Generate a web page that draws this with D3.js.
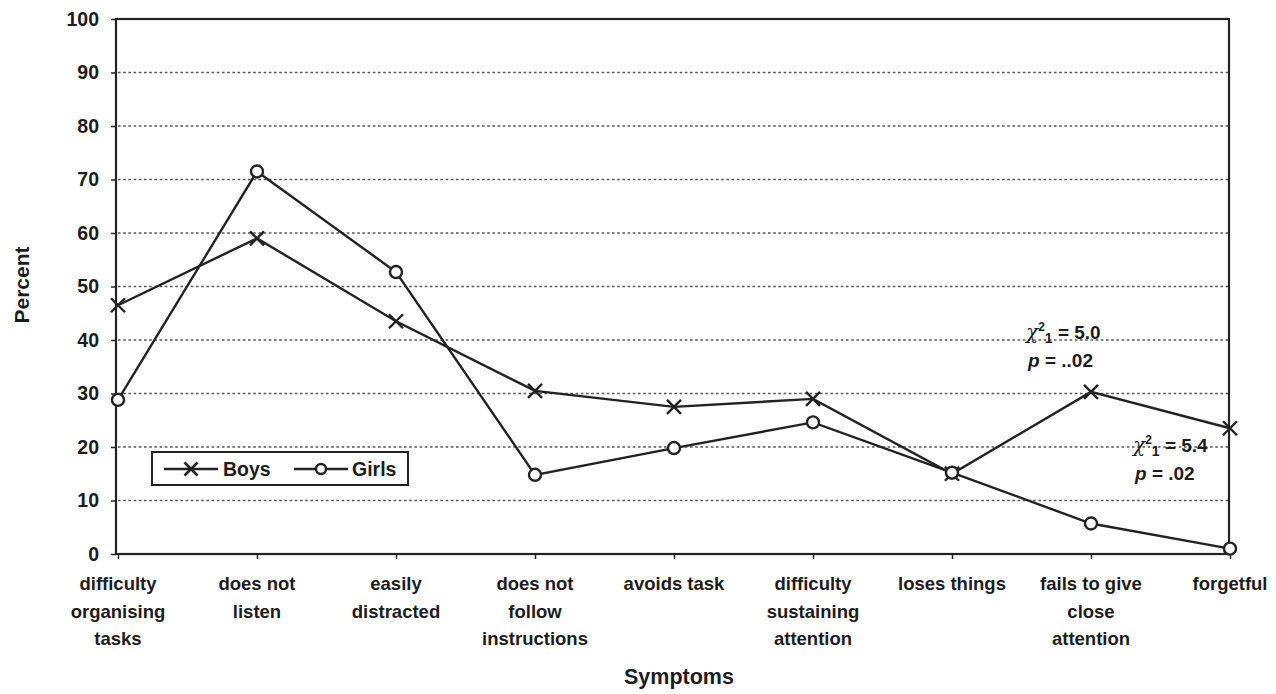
<!DOCTYPE html>
<html>
<head>
<meta charset="utf-8">
<script src="https://cdn.jsdelivr.net/npm/d3@7"></script>
<style>
  html, body { margin: 0; padding: 0; background: #fff; }
  svg { display: block; font-family: "Liberation Sans", Arial, sans-serif; }
</style>
</head>
<body>
<svg id="chart" width="1276" height="694"></svg>
<script>
// Symptom categories (multi-line labels)
const categories = [
  ["difficulty", "organising", "tasks"],
  ["does not", "listen"],
  ["easily", "distracted"],
  ["does not", "follow", "instructions"],
  ["avoids task"],
  ["difficulty", "sustaining", "attention"],
  ["loses things"],
  ["fails to give", "close", "attention"],
  ["forgetful"]
];
const boys  = [46.5, 59.0, 43.5, 30.5, 27.5, 29.0, 15.0, 30.3, 23.5];
const girls = [28.8, 71.5, 52.7, 14.8, 19.8, 24.6, 15.2, 5.7, 1.0];
const yTicks = [0, 10, 20, 30, 40, 50, 60, 70, 80, 90, 100];

const svg = d3.select("#chart");
const plotLeft = 118, plotRight = 1230, plotTop = 19, plotBottom = 554;
const ink = "#1c1c1c";

const x = d3.scalePoint().domain(d3.range(categories.length)).range([plotLeft, plotRight]).padding(0);
const y = d3.scaleLinear().domain([0, 100]).range([plotBottom, plotTop]);

// dotted gridlines
svg.append("g").selectAll("line")
  .data(yTicks.filter(t => t > 0 && t < 100))
  .join("line")
  .attr("x1", plotLeft).attr("x2", 1228)
  .attr("y1", d => y(d)).attr("y2", d => y(d))
  .attr("stroke", "#555").attr("stroke-width", 1.7)
  .attr("stroke-dasharray", "2.6,2.6");

// frame
svg.append("rect")
  .attr("x", 116).attr("y", plotTop)
  .attr("width", 1229 - 116).attr("height", plotBottom - plotTop)
  .attr("fill", "none").attr("stroke", "#222").attr("stroke-width", 2.2);

// y axis
const yAxis = svg.append("g").attr("transform", `translate(116,0)`)
  .call(d3.axisLeft(y).tickValues(yTicks).tickSize(5).tickPadding(12));
yAxis.select(".domain").remove();
yAxis.selectAll("line").attr("stroke", "#222").attr("stroke-width", 1.5);
yAxis.selectAll("text").attr("font-size", 19.5).attr("fill", ink)
  .attr("font-family", "'Liberation Sans', Arial, sans-serif").attr("font-weight", "bold");

// x axis
const xAxis = svg.append("g").attr("transform", `translate(0,${plotBottom})`)
  .call(d3.axisBottom(x).tickSize(5).tickFormat(""));
xAxis.select(".domain").remove();
xAxis.selectAll("line").attr("stroke", "#222").attr("stroke-width", 1.5);

const labels = svg.append("g")
  .attr("font-size", 18.5).attr("font-weight", "bold").attr("fill", ink)
  .attr("text-anchor", "middle");
categories.forEach((lines, i) => {
  const t = labels.append("text").attr("x", x(i)).attr("y", 590);
  lines.forEach((ln, k) => {
    t.append("tspan").attr("x", x(i)).attr("dy", k === 0 ? 0 : 27.5).text(ln);
  });
});

// axis titles
svg.append("text").attr("x", 679).attr("y", 684)
  .attr("text-anchor", "middle").attr("font-size", 21.5).attr("font-weight", "bold")
  .attr("fill", ink).text("Symptoms");
svg.append("text")
  .attr("transform", "translate(29,285) rotate(-90)")
  .attr("text-anchor", "middle").attr("font-size", 21).attr("font-weight", "bold")
  .attr("fill", ink).text("Percent");

// series lines
const line = d3.line().x((d, i) => x(i)).y(d => y(d));
svg.append("path").datum(boys).attr("d", line)
  .attr("fill", "none").attr("stroke", "#222").attr("stroke-width", 2.4);
svg.append("path").datum(girls).attr("d", line)
  .attr("fill", "none").attr("stroke", "#222").attr("stroke-width", 2.4);

// markers
const crossPath = s => `M${-s},${-s}L${s},${s}M${-s},${s}L${s},${-s}`;
svg.append("g").selectAll("path").data(boys).join("path")
  .attr("transform", (d, i) => `translate(${x(i)},${y(d)})`)
  .attr("d", crossPath(7))
  .attr("stroke", "#222").attr("stroke-width", 2.4).attr("fill", "none");
svg.append("g").selectAll("circle").data(girls).join("circle")
  .attr("cx", (d, i) => x(i)).attr("cy", d => y(d)).attr("r", 6)
  .attr("fill", "#fff").attr("stroke", "#222").attr("stroke-width", 2.4);

// legend
const lg = svg.append("g");
lg.append("rect").attr("x", 152).attr("y", 452).attr("width", 256).attr("height", 33)
  .attr("fill", "#fff").attr("stroke", "#222").attr("stroke-width", 2);
lg.append("line").attr("x1", 164).attr("x2", 218).attr("y1", 469).attr("y2", 469)
  .attr("stroke", "#222").attr("stroke-width", 2.4);
lg.append("path").attr("transform", "translate(191,469)").attr("d", crossPath(6.5))
  .attr("stroke", "#222").attr("stroke-width", 2.6);
lg.append("text").attr("x", 223).attr("y", 476).attr("font-size", 19.5).attr("font-weight", "bold")
  .attr("fill", ink).text("Boys");
lg.append("line").attr("x1", 294).attr("x2", 348).attr("y1", 469).attr("y2", 469)
  .attr("stroke", "#222").attr("stroke-width", 2.4);
lg.append("circle").attr("cx", 321).attr("cy", 469).attr("r", 5)
  .attr("fill", "#fff").attr("stroke", "#222").attr("stroke-width", 2.4);
lg.append("text").attr("x", 352).attr("y", 476).attr("font-size", 19.5).attr("font-weight", "bold")
  .attr("fill", ink).text("Girls");

// chi-square annotations
function stat(xp, yp, chi, p) {
  const g = svg.append("g").attr("font-size", 19).attr("font-weight", "bold").attr("fill", ink);
  const t = g.append("text").attr("x", xp).attr("y", yp);
  t.append("tspan").attr("font-family", "'DejaVu Serif', serif").attr("font-style", "italic")
    .attr("font-weight", "normal").attr("font-size", 20).text("χ");
  t.append("tspan").attr("font-size", 12).attr("dy", -8).text("2");
  t.append("tspan").attr("font-size", 14).attr("dy", 12).text("1");
  t.append("tspan").attr("dy", -4).text(" = " + chi);
  const t2 = g.append("text").attr("x", xp + 2).attr("y", yp + 28);
  t2.append("tspan").attr("font-style", "italic").text("p");
  t2.append("tspan").text(" = " + p);
}
stat(1026, 339, "5.0", "..02");
stat(1133, 452, "5.4", ".02");
</script>
</body>
</html>
